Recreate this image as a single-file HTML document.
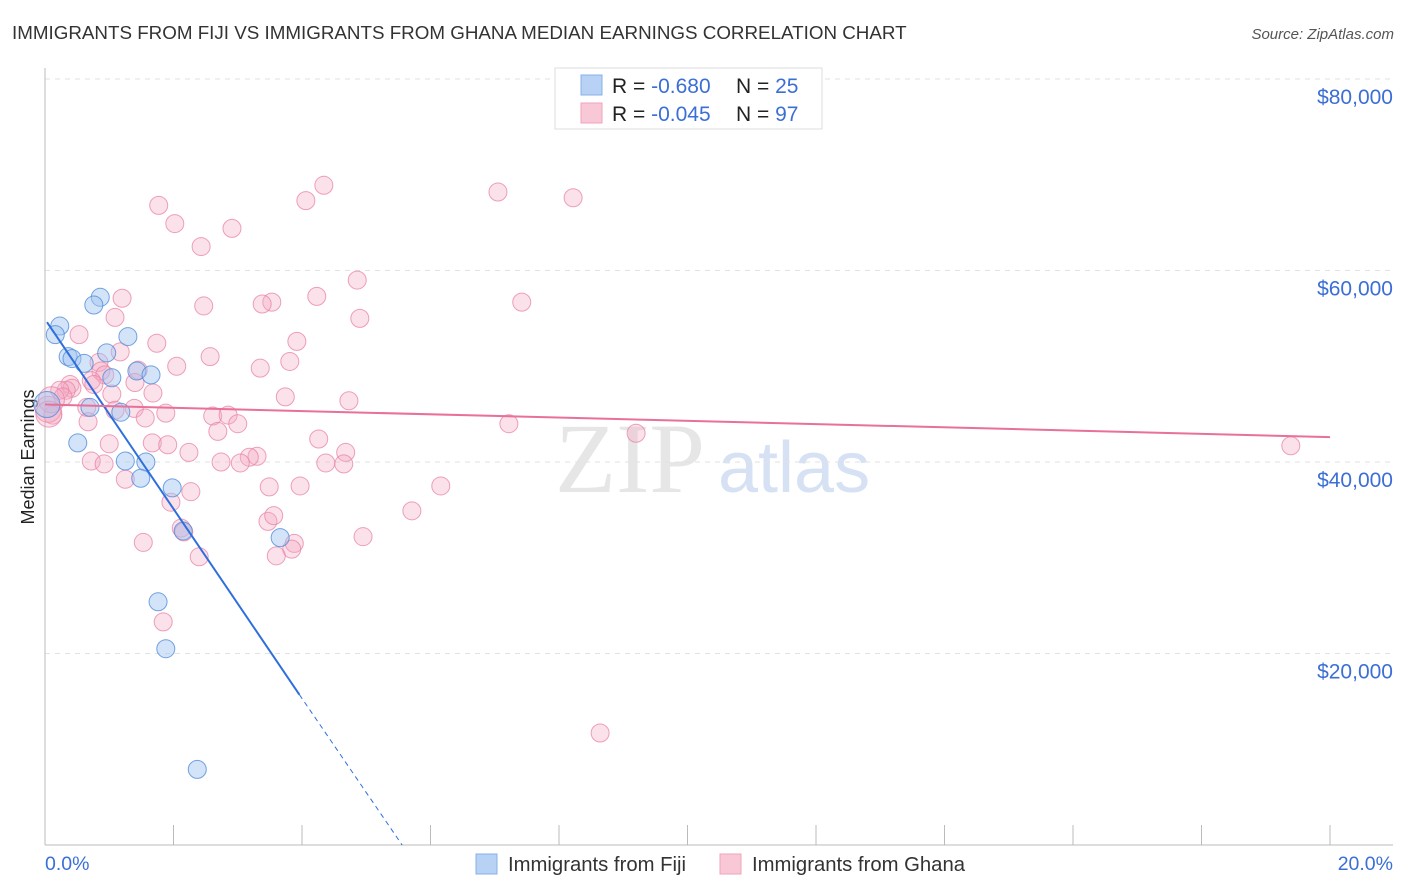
<!DOCTYPE html>
<html><head><meta charset="utf-8"><style>
body{margin:0;background:#fff;font-family:"Liberation Sans",sans-serif;}
svg{display:block}
</style></head><body>
<svg id="chart" width="1406" height="892">
<text x="12" y="39" font-size="18.8" fill="#333">IMMIGRANTS FROM FIJI VS IMMIGRANTS FROM GHANA MEDIAN EARNINGS CORRELATION CHART</text>
<text x="1394" y="39" font-size="15" fill="#555" font-style="italic" text-anchor="end">Source: ZipAtlas.com</text>
<text x="34" y="457" font-size="18" fill="#222" text-anchor="middle" transform="rotate(-90 34 457)">Median Earnings</text>
<text x="555" y="492" font-size="100" fill="#e6e6e6" font-family="Liberation Serif,serif">ZIP</text>
<text x="718" y="492" font-size="72" fill="#d6e2f4">atlas</text>
<g id="grid"></g><g id="pts"></g><g id="lines"></g>
<g>
<rect x="555" y="68" width="267" height="61" fill="#fff" stroke="#ddd"/>
<rect x="581" y="75" width="21" height="20" fill="#b7d2f4" stroke="#86b0e8"/>
<rect x="581" y="103" width="21" height="20" fill="#f9c8d6" stroke="#efa3bb"/>
<text x="612" y="93" font-size="21" fill="#222">R = <tspan fill="#3b6fd6">-0.680</tspan><tspan x="736">N = </tspan><tspan fill="#3b6fd6">25</tspan></text>
<text x="612" y="121" font-size="21" fill="#222">R = <tspan fill="#3b6fd6">-0.045</tspan><tspan x="736">N = </tspan><tspan fill="#3b6fd6">97</tspan></text>
</g>
<g>
<rect x="476" y="854" width="21" height="20" fill="#b7d2f4" stroke="#86b0e8"/>
<text x="508" y="871" font-size="20.3" fill="#333">Immigrants from Fiji</text>
<rect x="720" y="854" width="21" height="20" fill="#f9c8d6" stroke="#efa3bb"/>
<text x="752" y="871" font-size="20.3" fill="#333">Immigrants from Ghana</text>
</g>
</svg>
<script>
const yTicks=[20000,40000,60000,80000];
const yTickLabels=["$20,000","$40,000","$60,000","$80,000"];
const xTickValues=[0,2,4,6,8,10,12,14,16,18,20];
const xLabels=["0.0%","20.0%"];
const fijiX=[0.86,0.76,0.23,0.16,0.36,0.42,0.96,1.29,0.61,1.04,1.43,1.65,0.70,1.18,0.51,1.25,1.57,1.49,1.98,2.15,3.66,1.76,1.88,2.37,0.03];
const fijiY=[57.2,56.4,54.2,53.3,51.0,50.8,51.4,53.1,50.3,48.8,49.5,49.1,45.7,45.2,42.0,40.1,40.0,38.3,37.3,32.8,32.1,25.4,20.5,7.9,46.0];
const ghanaX=[4.34,4.06,7.05,8.22,1.77,2.02,2.91,2.43,4.86,1.20,4.23,7.42,2.47,3.53,3.38,1.09,4.90,0.53,1.74,3.92,1.17,2.57,0.84,3.81,2.05,3.35,1.45,0.87,0.93,0.72,0.39,0.76,1.40,0.42,0.33,0.23,1.68,1.04,3.74,4.73,0.65,1.39,1.09,1.88,2.61,2.85,3.00,0.67,1.56,2.69,7.22,9.20,19.39,1.00,1.67,1.91,4.26,2.24,3.30,3.18,4.68,0.72,0.92,2.74,3.04,4.37,4.65,1.25,3.49,3.97,6.16,2.27,1.96,3.47,3.56,5.71,2.12,2.16,3.88,4.95,1.53,3.84,3.60,2.40,1.84,8.64,0.28,0.12,0.05,0.10,0.06];
const ghanaY=[68.9,67.3,68.2,67.6,66.8,64.9,64.4,62.5,59.0,57.1,57.3,56.7,56.3,56.7,56.5,55.1,55.0,53.3,52.4,52.6,51.5,51.0,50.4,50.5,50.0,49.8,49.6,49.5,49.1,48.5,48.1,48.1,48.3,47.7,47.5,47.5,47.2,47.1,46.8,46.4,45.7,45.6,45.4,45.1,44.8,44.9,44.0,44.2,44.6,43.2,44.0,43.0,41.7,41.9,42.0,41.8,42.4,41.0,40.6,40.5,41.0,40.1,39.8,40.0,39.9,39.9,39.8,38.2,37.4,37.5,37.5,36.9,35.8,33.8,34.4,34.9,33.1,32.7,31.5,32.2,31.6,30.9,30.2,30.1,23.3,11.7,46.8,44.9,45.5,46.5,45.0];
const fijiTrend=[0,54.6,3.96,15.7];
const ghanaTrend=[0,46.0,20,42.6];
const X=v=>45+v/20*1285, Y=v=>845-v*1000/20000*191.5;
const NS="http://www.w3.org/2000/svg";
function mk(t,a,p){const e=document.createElementNS(NS,t);for(const k in a)e.setAttribute(k,a[k]);p.appendChild(e);return e;}
const g=document.getElementById('grid');
yTicks.forEach((t,i)=>{const y=845-t/20000*191.5;
 const l=mk('line',{x1:45,x2:1393,y1:y,y2:y,stroke:'#e2e2e2','stroke-dasharray':'5,5'},g);
 
 
 const tx=mk('text',{x:1393,y:y+25,'font-size':21,fill:'#3b6fd6','text-anchor':'end'},g);tx.textContent=yTickLabels[i];
 
 });
const ax=mk('line',{x1:45,x2:1393,y1:845,y2:845,stroke:'#bbb'},g);


const ay=mk('line',{x1:45,x2:45,y1:68,y2:845,stroke:'#bbb'},g);


xTickValues.forEach(v=>{const t=mk('line',{x1:X(v),x2:X(v),y1:825,y2:845,stroke:'#bbb'},g);
 
 });
[[0,'start',45],[1,'end',1393]].forEach(([i,a,x])=>{const t=mk('text',{x:x,y:870,'font-size':19.5,fill:'#3b6fd6','text-anchor':a},g);t.textContent=xLabels[i];
 
 });
const pg=document.getElementById('pts');
ghanaX.forEach((v,i)=>{const c=mk('circle',{cx:X(v),cy:Y(ghanaY[i]),r:i>=88?13:9,fill:'rgba(244,170,195,0.35)',stroke:'rgba(232,130,165,0.75)','stroke-width':1},pg);
 
 });
fijiX.forEach((v,i)=>{const c=mk('circle',{cx:X(v),cy:Y(fijiY[i]),r:i==24?13:9,fill:'rgba(160,195,240,0.45)',stroke:'rgba(80,140,220,0.8)','stroke-width':1},pg);
 
 });
const lg=document.getElementById('lines');
const slope=(fijiTrend[3]-fijiTrend[1])/(fijiTrend[2]-fijiTrend[0]);
const fl=mk('line',{x1:X(fijiTrend[0])+2,y1:Y(fijiTrend[1]),x2:X(fijiTrend[2]),y2:Y(fijiTrend[3]),stroke:'#2f6fdc','stroke-width':2},lg);


const x0=fijiTrend[0]-fijiTrend[1]/slope;
const fd=mk('line',{x1:X(fijiTrend[2]),y1:Y(fijiTrend[3]),x2:X(x0),y2:Y(0),stroke:'#2f6fdc','stroke-width':1,'stroke-dasharray':'5,4'},lg);


const gl=mk('line',{x1:X(ghanaTrend[0]),y1:Y(ghanaTrend[1]),x2:X(ghanaTrend[2]),y2:Y(ghanaTrend[3]),stroke:'#e8709a','stroke-width':2},lg);


</script>
</body></html>
